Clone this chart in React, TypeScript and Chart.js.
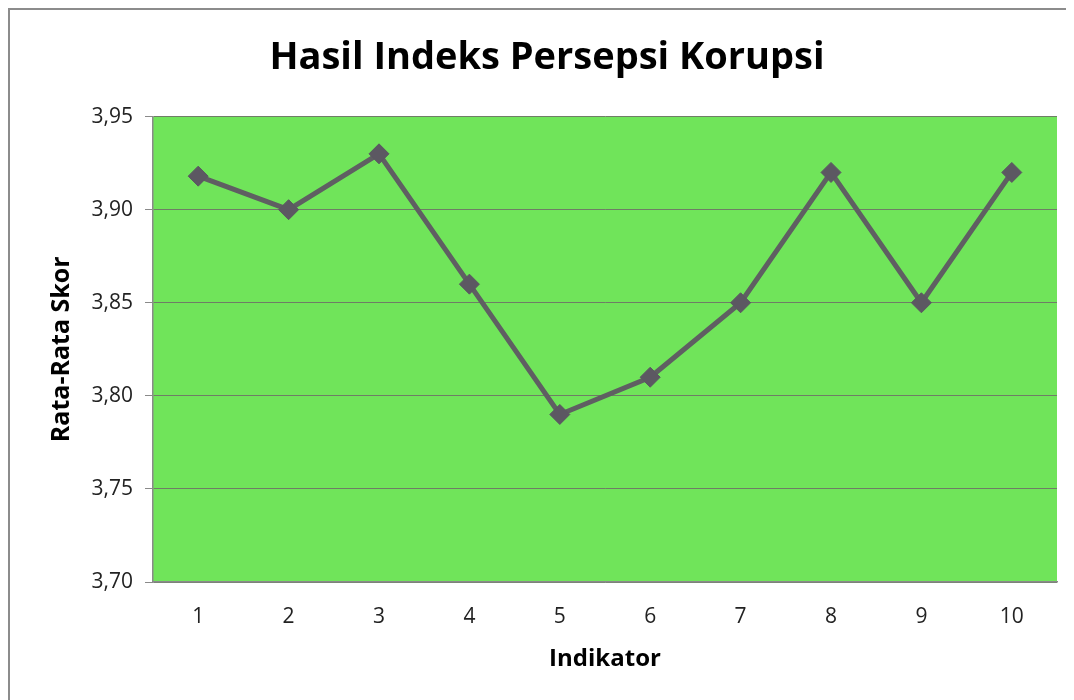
import React, { useEffect, useRef } from "react";
import { Chart, registerables } from "chart.js";

Chart.register(...registerables);

const categories: string[] = ["1", "2", "3", "4", "5", "6", "7", "8", "9", "10"];
const scores: number[] = [3.918, 3.9, 3.93, 3.86, 3.79, 3.81, 3.85, 3.92, 3.85, 3.92];
const yMin = 3.7;
const yMax = 3.95;
const yStep = 0.05;
const titleText = "Hasil Indeks Persepsi Korupsi";
const yTitle = "Rata-Rata Skor";
const xTitle = "Indikator";

const plotBg = {
  id: "plotBg",
  beforeDraw(chart: any) {
    const { ctx, chartArea } = chart;
    if (!chartArea) return;
    ctx.save();
    ctx.fillStyle = "#70e45a";
    ctx.fillRect(chartArea.left, chartArea.top, chartArea.right - chartArea.left, chartArea.bottom - chartArea.top);
    ctx.restore();
  },
};

export default function App() {
  const ref = useRef<HTMLCanvasElement | null>(null);
  useEffect(() => {
    if (!ref.current) return;
    const font = "'Open Sans', 'DejaVu Sans', sans-serif";
    const chart = new Chart(ref.current, {
      type: "line",
      data: {
        labels: categories,
        datasets: [
          {
            data: scores,
            borderColor: "#5f5f62",
            borderWidth: 5,
            backgroundColor: "#5c5862",
            pointBackgroundColor: "#5c5862",
            pointBorderColor: "#5c5862",
            pointStyle: "rectRot",
            pointRadius: 10,
            pointBorderWidth: 1,
            tension: 0,
            fill: false,
          },
        ],
      },
      plugins: [plotBg],
      options: {
        animation: false,
        responsive: false,
        devicePixelRatio: 1,
        layout: { padding: { left: 27, right: 17, top: 0, bottom: 0 } },
        plugins: {
          legend: { display: false },
          tooltip: { enabled: false },
          title: {
            display: true,
            text: titleText,
            color: "#000",
            font: { family: font, size: 38, weight: "bold" },
            padding: { top: 25, bottom: 36 },
          },
        },
        scales: {
          x: {
            type: "category",
            offset: true,
            grid: { display: false, offset: true },
            border: { display: true, color: "#8a8a8a", width: 1.5 },
            ticks: {
              color: "#222",
              font: { family: font, size: 21 },
              padding: 14,
            },
            title: {
              display: true,
              text: xTitle,
              color: "#000",
              font: { family: font, size: 24, weight: "bold" },
              padding: { top: 0, bottom: 26 },
            },
            afterFit(scale: any) {
              scale.height = 118;
            },
          },
          y: {
            min: yMin,
            max: yMax,
            grid: {
              color: "#6f7d66",
              lineWidth: 1,
              drawTicks: true,
              tickLength: 8,
              tickColor: "#8a8a8a",
            },
            border: { display: true, color: "#8a8a8a", width: 1.5 },
            ticks: {
              stepSize: yStep,
              color: "#222",
              font: { family: font, size: 21 },
              padding: 12,
              callback: (v: any) => Number(v).toFixed(2).replace(".", ","),
            },
            title: {
              display: true,
              text: yTitle,
              color: "#000",
              font: { family: font, size: 25, weight: "bold" },
              padding: { top: 10, bottom: 0 },
            },
            afterFit(scale: any) {
              scale.width = 116;
            },
          },
        },
      },
    });
    return () => chart.destroy();
  }, []);
  return (
    <div
      style={{
        borderTop: "2px solid #8c8c8c",
        borderLeft: "2px solid #8c8c8c",
        width: 1064,
        height: 690,
      }}
    >
      <canvas ref={ref} width={1064} height={690} style={{ display: "block", width: 1064, height: 690 }} />
    </div>
  );
}
